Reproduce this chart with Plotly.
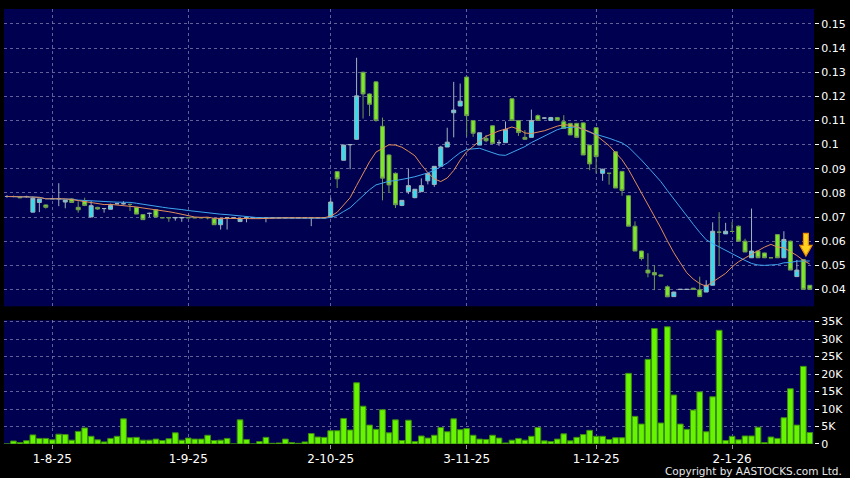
import plotly.graph_objects as go
import pandas as pd

# ---------------- data ----------------
tick_idx = [7, 28, 50, 71, 91, 112]
tick_labels = ["1-8-25", "1-9-25", "2-10-25", "3-11-25", "1-12-25", "2-1-26"]

opens = [0.0785, 0.0785, 0.0782, 0.0785, 0.0720, 0.0760, 0.0750, 0.0776, 0.0776, 0.0762,
         0.0775, 0.0740, 0.0767, 0.0700, 0.0740, 0.0735, 0.0732, 0.0755, 0.0755, 0.0752,
         0.0740, 0.0710, 0.0715, 0.0730, 0.0697, 0.0697, 0.0696, 0.0696, 0.0697, 0.0697,
         0.0697, 0.0697, 0.0693, 0.0668, 0.0697, 0.0697, 0.0681, 0.0697, 0.0697, 0.0697,
         0.0697, 0.0697, 0.0697, 0.0697, 0.0697, 0.0697, 0.0697, 0.0697, 0.0697, 0.0697,
         0.0700, 0.0888, 0.0935, 0.1000, 0.1022, 0.1300, 0.1210, 0.1260, 0.1076, 0.0957,
         0.0881, 0.0748, 0.0805, 0.0780, 0.0805, 0.0850, 0.0835, 0.0910, 0.0990, 0.1132,
         0.1160, 0.1280, 0.1100, 0.0998, 0.1026, 0.1078, 0.1008, 0.1008, 0.1190, 0.1100,
         0.1030, 0.1030, 0.1120, 0.1110, 0.1100, 0.1112, 0.1095, 0.1088, 0.1088, 0.1090,
         0.0998, 0.1070, 0.0881, 0.0881, 0.0970, 0.0889, 0.0788, 0.0662, 0.0559, 0.0480,
         0.0470, 0.0460, 0.0411, 0.0370, 0.0400, 0.0400, 0.0405, 0.0398, 0.0389, 0.0417,
         0.0637, 0.0630, 0.0640, 0.0662, 0.0600, 0.0531, 0.0559, 0.0551, 0.0531, 0.0627,
         0.0531, 0.0600, 0.0453, 0.0524, 0.0417]
highs = [0.0790, 0.0788, 0.0785, 0.0788, 0.0785, 0.0775, 0.0752, 0.0778, 0.0840, 0.0770,
         0.0778, 0.0765, 0.0780, 0.0767, 0.0742, 0.0736, 0.0755, 0.0756, 0.0765, 0.0755,
         0.0742, 0.0712, 0.0718, 0.0732, 0.0699, 0.0699, 0.0699, 0.0699, 0.0698, 0.0698,
         0.0698, 0.0700, 0.0695, 0.0693, 0.0700, 0.0697, 0.0697, 0.0699, 0.0697, 0.0698,
         0.0698, 0.0698, 0.0698, 0.0698, 0.0698, 0.0698, 0.0698, 0.0698, 0.0698, 0.0698,
         0.0780, 0.0890, 0.1000, 0.1002, 0.1360, 0.1302, 0.1212, 0.1262, 0.1112, 0.0960,
         0.0885, 0.0770, 0.0900, 0.0815, 0.0860, 0.0882, 0.0910, 0.0995, 0.1070, 0.1260,
         0.1253, 0.1282, 0.1102, 0.1049, 0.1040, 0.1080, 0.1020, 0.1096, 0.1192, 0.1102,
         0.1060, 0.1145, 0.1125, 0.1112, 0.1115, 0.1115, 0.1122, 0.1090, 0.1090, 0.1092,
         0.1000, 0.1072, 0.0900, 0.0882, 0.0972, 0.0890, 0.0790, 0.0682, 0.0560, 0.0550,
         0.0500, 0.0462, 0.0417, 0.0390, 0.0401, 0.0401, 0.0406, 0.0453, 0.0438, 0.0678,
         0.0720, 0.0676, 0.0680, 0.0665, 0.0610, 0.0735, 0.0560, 0.0552, 0.0532, 0.0628,
         0.0641, 0.0602, 0.0522, 0.0526, 0.0418]
lows = [0.0780, 0.0782, 0.0778, 0.0780, 0.0720, 0.0720, 0.0735, 0.0774, 0.0745, 0.0736,
        0.0760, 0.0718, 0.0745, 0.0700, 0.0730, 0.0718, 0.0732, 0.0754, 0.0752, 0.0725,
        0.0712, 0.0689, 0.0700, 0.0700, 0.0695, 0.0680, 0.0685, 0.0680, 0.0695, 0.0695,
        0.0695, 0.0690, 0.0668, 0.0648, 0.0648, 0.0697, 0.0680, 0.0678, 0.0697, 0.0695,
        0.0678, 0.0695, 0.0695, 0.0695, 0.0695, 0.0695, 0.0695, 0.0662, 0.0695, 0.0695,
        0.0695, 0.0820, 0.0935, 0.0898, 0.1020, 0.1108, 0.1118, 0.1095, 0.0769, 0.0800,
        0.0737, 0.0745, 0.0795, 0.0778, 0.0805, 0.0835, 0.0825, 0.0910, 0.0990, 0.1030,
        0.1160, 0.1034, 0.1032, 0.0998, 0.1010, 0.1005, 0.0995, 0.1008, 0.1100, 0.1036,
        0.1020, 0.1030, 0.1100, 0.1108, 0.1100, 0.1100, 0.1067, 0.1040, 0.1030, 0.0957,
        0.0894, 0.0880, 0.0850, 0.0834, 0.0820, 0.0788, 0.0662, 0.0559, 0.0520, 0.0450,
        0.0397, 0.0453, 0.0369, 0.0369, 0.0399, 0.0399, 0.0399, 0.0369, 0.0389, 0.0417,
        0.0500, 0.0630, 0.0640, 0.0600, 0.0555, 0.0531, 0.0531, 0.0531, 0.0530, 0.0531,
        0.0531, 0.0480, 0.0453, 0.0400, 0.0400]
closes = [0.0785, 0.0785, 0.0780, 0.0785, 0.0778, 0.0775, 0.0740, 0.0776, 0.0776, 0.0770,
          0.0760, 0.0730, 0.0748, 0.0747, 0.0733, 0.0735, 0.0748, 0.0755, 0.0755, 0.0752,
          0.0712, 0.0689, 0.0715, 0.0700, 0.0697, 0.0697, 0.0698, 0.0698, 0.0697, 0.0697,
          0.0697, 0.0697, 0.0668, 0.0693, 0.0697, 0.0697, 0.0692, 0.0697, 0.0697, 0.0697,
          0.0697, 0.0697, 0.0697, 0.0697, 0.0697, 0.0697, 0.0697, 0.0697, 0.0697, 0.0697,
          0.0762, 0.0858, 0.0998, 0.1000, 0.1202, 0.1210, 0.1167, 0.1100, 0.0861, 0.0833,
          0.0751, 0.0769, 0.0830, 0.0815, 0.0830, 0.0880, 0.0910, 0.0990, 0.1010, 0.1143,
          0.1180, 0.1120, 0.1047, 0.1049, 0.1016, 0.1005, 0.1008, 0.1063, 0.1100, 0.1050,
          0.1022, 0.1100, 0.1100, 0.1110, 0.1112, 0.1101, 0.1067, 0.1040, 0.1030, 0.0957,
          0.0920, 0.0950, 0.0898, 0.0881, 0.0820, 0.0810, 0.0662, 0.0559, 0.0528, 0.0468,
          0.0460, 0.0455, 0.0369, 0.0389, 0.0400, 0.0400, 0.0400, 0.0370, 0.0417, 0.0641,
          0.0637, 0.0641, 0.0640, 0.0600, 0.0555, 0.0559, 0.0531, 0.0531, 0.0531, 0.0531,
          0.0607, 0.0480, 0.0480, 0.0400, 0.0400]
volumes = [0, 850, 400, 950, 2600, 1600, 1600, 1200, 2800, 2700,
           1100, 3600, 4600, 2200, 1200, 600, 1600, 2200, 7200, 1800,
           1900, 1100, 1100, 1400, 1000, 1500, 3200, 1100, 1700, 1400,
           1400, 2500, 1000, 1100, 1600, 0, 6900, 1300, 0, 700,
           1900, 200, 300, 1400, 400, 200, 600, 3000, 2000, 1900,
           3800, 3800, 7300, 4000, 17500, 10800, 5400, 4200, 9800, 3200,
           6900, 1000, 6800, 700, 2300, 1700, 2500, 4700, 3500, 7200,
           4100, 4400, 2500, 1400, 1300, 2500, 1700, 300, 1100, 1600,
           1100, 2200, 4700, 900, 700, 1400, 2900, 900, 1900, 2700,
           3900, 2200, 2200, 1300, 1800, 1800, 20200, 7900, 5700, 24200,
           33000, 6000, 33500, 14000, 5700, 4200, 9700, 14900, 3500, 13500,
           32500, 1000, 2200, 1200, 2300, 2300, 4800, 400, 2000, 1600,
           7500, 15800, 5400, 22200, 3300]

price_ticks = [0.04, 0.05, 0.06, 0.07, 0.08, 0.09, 0.10, 0.11, 0.12, 0.13, 0.14, 0.15]
price_tick_text = ["0.04", "0.05", "0.06", "0.07", "0.08", "0.09", "0.1", "0.11", "0.12",
                   "0.13", "0.14", "0.15"]
vol_ticks = [0, 5000, 10000, 15000, 20000, 25000, 30000, 35000]
vol_tick_text = ["0", "5K", "10K", "15K", "20K", "25K", "30K", "35K"]

x = list(range(len(closes)))
ma_short = pd.Series(closes).rolling(10, min_periods=1).mean()
ma_long = pd.Series(closes).rolling(20, min_periods=1).mean()

# ---------------- style ----------------
NAVY = "rgb(0,0,80)"
GRID = "rgba(130,130,175,0.75)"
FONT = "DejaVu Sans"
xrange_ = [-0.46, len(x) - 0.35]

fig = go.Figure()
fig.add_trace(go.Candlestick(
    x=x, open=opens, high=highs, low=lows, close=closes,
    increasing=dict(fillcolor="#35dcee", line=dict(color="#9fb4bc", width=1)),
    decreasing=dict(fillcolor="#7de82a", line=dict(color="#6e9a50", width=1)),
    whiskerwidth=0, showlegend=False, hoverinfo="skip", xaxis="x", yaxis="y"))
fig.add_trace(go.Scatter(x=x, y=ma_long, mode="lines", line=dict(color="#3ea6ee", width=1),
                         showlegend=False, hoverinfo="skip", xaxis="x", yaxis="y"))
fig.add_trace(go.Scatter(x=x, y=ma_short, mode="lines", line=dict(color="#e28d58", width=1),
                         showlegend=False, hoverinfo="skip", xaxis="x", yaxis="y"))
fig.add_trace(go.Bar(x=x, y=volumes, marker=dict(color="#66f400", line=dict(color="#3d8a12", width=1)),
                     showlegend=False, hoverinfo="skip", xaxis="x2", yaxis="y2"))

# down arrow marker above the latest-but-one candle
xc = x[-2] + 0.4
y0 = highs[-2] + 0.0012
yn = y0 + 0.0045
yt = yn + 0.0049
arrow_path = (f"M {xc-0.38},{yt} L {xc+0.38},{yt} L {xc+0.38},{yn} L {xc+0.95},{yn} "
              f"L {xc},{y0} L {xc-0.95},{yn} L {xc-0.38},{yn} Z")
fig.add_shape(type="path", path=arrow_path, xref="x", yref="y",
              fillcolor="#ffd21f", line=dict(color="#e88a00", width=1.2))

fig.update_layout(
    width=850, height=478,
    margin=dict(l=4, r=35, t=5, b=34),
    paper_bgcolor="black", plot_bgcolor=NAVY,
    font=dict(family=FONT, color="white", size=11),
    boxgap=0.12, bargap=0.12,
    showlegend=False,
    xaxis=dict(domain=[0, 1], range=xrange_, anchor="y", tickvals=tick_idx,
               showticklabels=False, showgrid=True, gridcolor=GRID, griddash="3px,3px",
               gridwidth=1, zeroline=False, rangeslider=dict(visible=False), ticks=""),
    yaxis=dict(domain=[0.3166, 1], range=[0.0330, 0.1562], side="right",
               tickvals=price_ticks, ticktext=price_tick_text, ticks="outside", ticklen=4,
               tickcolor="white", showgrid=True, gridcolor=GRID, griddash="3px,3px",
               zeroline=False, tickfont=dict(family=FONT, size=11, color="white")),
    xaxis2=dict(domain=[0, 1], range=xrange_, anchor="y2", tickvals=tick_idx,
                ticktext=tick_labels, ticks="outside", ticklen=4, tickcolor="#999999",
                showgrid=True, gridcolor=GRID, griddash="3px,3px", zeroline=False,
                tickfont=dict(family=FONT, size=12, color="white")),
    yaxis2=dict(domain=[0, 0.2847], range=[0, 35400], side="right",
                tickvals=vol_ticks, ticktext=vol_tick_text, ticks="outside", ticklen=4,
                tickcolor="white", showgrid=True, gridcolor=GRID, griddash="3px,3px",
                zeroline=False, tickfont=dict(family=FONT, size=11, color="white")),
)

fig.add_annotation(text="Copyright by AASTOCKS.com Ltd.", xref="paper", yref="paper",
                   x=1.037, y=-0.063, xanchor="right", yanchor="middle", showarrow=False,
                   font=dict(family=FONT, size=10.5, color="#e8e8e8"))

fig.write_html("out.html",
               config={"displayModeBar": False},
               post_script="document.body.style.margin='0';document.body.style.padding='0';"
                           "document.body.style.background='black';"
                           "document.body.style.overflow='hidden';")
